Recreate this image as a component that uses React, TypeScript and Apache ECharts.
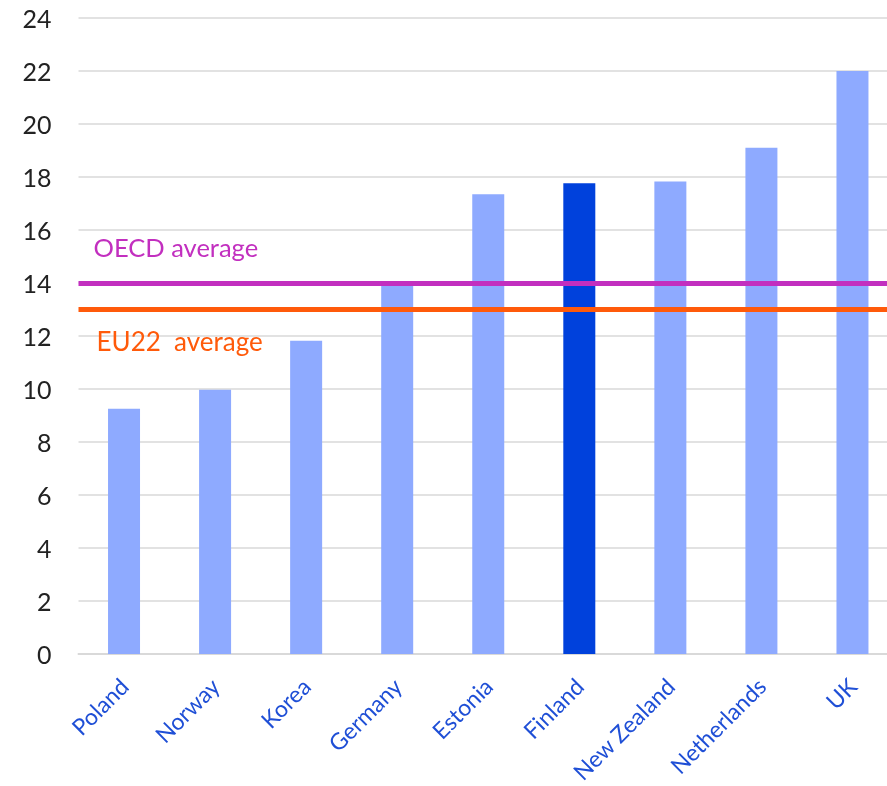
import React, { useEffect, useRef } from "react";
import * as echarts from "echarts";

const categories = ["Poland", "Norway", "Korea", "Germany", "Estonia", "Finland", "New Zealand", "Netherlands", "UK"];
const values = [9.25, 9.97, 11.82, 13.97, 17.35, 17.76, 17.83, 19.1, 22.0];
const highlight = "Finland";
const oecdAverage = 14;
const eu22Average = 13;
const yTicks = { min: 0, max: 24, interval: 2 };

export default function App() {
  const ref = useRef<HTMLDivElement>(null);
  useEffect(() => {
    if (!ref.current) return;
    const chart = echarts.init(ref.current, undefined, { renderer: "svg" });
    const font = "Lato, 'Open Sans', sans-serif";
    chart.setOption({
      animation: false,
      grid: { left: 78.5, right: 0, top: 18, bottom: 130, containLabel: false },
      xAxis: {
        type: "category",
        data: categories,
        axisLine: { show: true, lineStyle: { color: "#d9d9d9", width: 2 } },
        axisTick: { show: false },
        axisLabel: {
          rotate: 45,
          interval: 0,
          color: "#1f4fd6",
          fontSize: 23,
          fontFamily: font,
          margin: 28,
        },
      },
      yAxis: {
        type: "value",
        min: yTicks.min,
        max: yTicks.max,
        interval: yTicks.interval,
        axisLine: { show: false },
        axisTick: { show: false },
        splitLine: { lineStyle: { color: "#d9d9d9", width: 1.5 } },
        axisLabel: { color: "#222", fontSize: 25, fontFamily: font, margin: 27 },
      },
      series: [
        {
          type: "bar",
          barWidth: 32,
          data: categories.map((c, i) => ({
            value: values[i],
            itemStyle: { color: c === highlight ? "#0041dc" : "#8eaaff" },
          })),
          markLine: {
            silent: true,
            symbol: "none",
            data: [
              {
                yAxis: oecdAverage,
                lineStyle: { color: "#c22fbf", width: 5, type: "solid" },
                label: {
                  formatter: "OECD average",
                  position: "insideStartTop",
                  color: "#c22fbf",
                  fontSize: 25.5,
                  fontFamily: font,
                  distance: [15, 23],
                },
              },
              {
                yAxis: eu22Average,
                lineStyle: { color: "#ff5a0a", width: 5, type: "solid" },
                label: {
                  formatter: "EU22  average",
                  position: "insideStartBottom",
                  color: "#ff5a0a",
                  fontSize: 26,
                  fontFamily: font,
                  distance: [18, 19],
                },
              },
            ],
          },
        },
      ],
    });
    return () => chart.dispose();
  }, []);
  return (
    <div style={{ position: "fixed", left: 0, top: 0, width: 887, height: 786, overflow: "hidden" }}>
      <div ref={ref} style={{ width: 898, height: 786 }} />
    </div>
  );
}
